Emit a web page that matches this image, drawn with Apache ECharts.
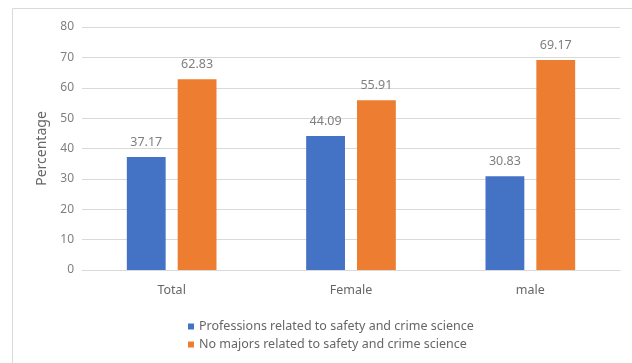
<!DOCTYPE html>
<html>
<head>
<meta charset="utf-8">
<script src="https://cdn.jsdelivr.net/npm/echarts@6/dist/echarts.min.js"></script>
<style>html,body{margin:0;padding:0;background:#fff;}#c{width:632px;height:363px;}</style>
</head>
<body>
<div id="c"></div>
<script>
const categories = ['Total', 'Female', 'male'];
const seriesNames = ['Professions related to safety and crime science', 'No majors related to safety and crime science'];
const profValues = [37.17, 44.09, 30.83];
const noMajorValues = [62.83, 55.91, 69.17];
const yTicks = [0, 10, 20, 30, 40, 50, 60, 70, 80];

const FONT = 'Noto Sans';
const GREY = '#666666';
const LGREY = '#7f7f7f';
const chart = echarts.init(document.getElementById('c'));
chart.setOption({
  animation: false,
  textStyle: { fontFamily: FONT },
  graphic: [{
    type: 'rect', shape: { x: 12.5, y: 8.5, width: 700, height: 400 },
    style: { fill: 'none', stroke: '#d9d9d9', lineWidth: 1 }, silent: true, z: -1
  }],
  grid: { left: 82, right: 12, top: 27, bottom: 93 },
  legend: {
    orient: 'vertical', left: 183, top: 315, itemWidth: 6, itemHeight: 6, itemGap: 5,
    icon: 'rect',
    textStyle: { color: GREY, fontSize: 12.5, fontFamily: FONT },
    data: seriesNames
  },
  xAxis: {
    type: 'category', data: categories,
    axisLine: { lineStyle: { color: '#d9d9d9' } },
    axisTick: { show: false },
    axisLabel: { color: GREY, fontSize: 12.5, margin: 14, fontFamily: FONT }
  },
  yAxis: {
    type: 'value', min: yTicks[0], max: yTicks[yTicks.length - 1], interval: 10,
    name: 'Percentage', nameLocation: 'middle', nameGap: 33, nameRotate: 90,
    nameTextStyle: { color: GREY, fontSize: 14, fontFamily: FONT },
    axisLine: { show: false }, axisTick: { show: false },
    axisLabel: { color: LGREY, fontSize: 12, margin: 8, fontFamily: FONT },
    splitLine: { lineStyle: { color: '#d9d9d9' } }
  },
  series: [
    {
      name: seriesNames[0], type: 'bar', data: profValues,
      barGap: '31%', barCategoryGap: '50%',
      itemStyle: { color: '#4472C4' },
      label: { show: true, position: 'top', distance: 8, color: LGREY, fontSize: 12.5, fontFamily: FONT }
    },
    {
      name: seriesNames[1], type: 'bar', data: noMajorValues,
      itemStyle: { color: '#ED7D31' },
      label: { show: true, position: 'top', distance: 8, color: LGREY, fontSize: 12.5, fontFamily: FONT }
    }
  ]
});
</script>
</body>
</html>
